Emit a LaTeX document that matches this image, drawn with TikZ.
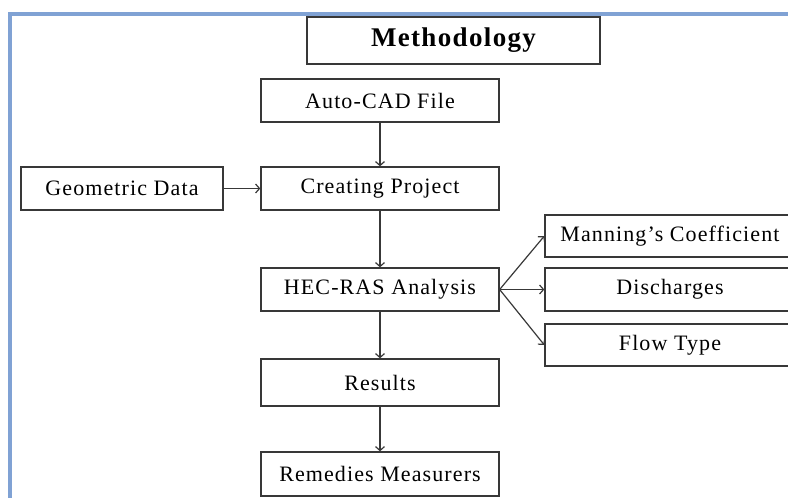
\documentclass[tikz,border=0pt]{standalone}
\usepackage{fontspec}
\setmainfont{Liberation Serif}[LetterSpace=5]
\usepackage{tikz}
\usetikzlibrary{arrows.meta,positioning}
\definecolor{framebl}{RGB}{128,162,212}
\definecolor{boxgray}{rgb}{0.22,0.22,0.22}

\begin{document}
\begin{tikzpicture}[x=1pt,y=-1pt,
            >={Straight Barb[length=4pt,width=9pt]},
            stepbox/.style={draw=boxgray, line width=1.3pt, rectangle, inner sep=0pt,
                minimum width=238pt, minimum height=43pt, font=\fontsize{22}{24}\selectfont},
            sidebox/.style={stepbox, minimum width=250pt, minimum height=42pt},
            flow/.style={->, boxgray, line width=1.2pt}]
            \useasboundingbox (0,0) rectangle (788,498);
            \draw[framebl, line width=4pt] (10,500) -- (10,14) -- (790,14);

            \node[stepbox, minimum width=293pt, minimum height=47pt,
                font=\fontsize{27}{29}\selectfont\bfseries] (title) at (453.5,40.5) {Methodology};
            \node[stepbox] (cad) at (380,100.5) {Auto-CAD File};
            \node[stepbox] (project) at (380,188.5) {Creating Project};
            \node[stepbox, minimum width=202pt] (geom) at (122,188.5) {Geometric Data};
            \node[stepbox] (hecras) at (380,289.5) {HEC-RAS Analysis};
            \node[sidebox] (manning) at (670,236) {Manning’s Coefficient};
            \node[sidebox, minimum height=43pt] (discharge) at (670,289.5) {Discharges};
            \node[sidebox] (flowtype) at (670,345) {Flow Type};
            \node[stepbox, minimum height=47pt] (results) at (380,382.5) {Results};
            \node[stepbox, minimum height=44pt] (remedies) at (380,474) {Remedies Measurers};

            \draw[flow] (cad) -- (project);
            \draw[flow] (geom) -- (project);
            \draw[flow] (project) -- (hecras);
            \draw[flow] (hecras.east) -- (manning.west);
            \draw[flow] (hecras.east) -- (discharge.west);
            \draw[flow] (hecras.east) -- (flowtype.west);
            \draw[flow] (hecras) -- (results);
            \draw[flow] (results) -- (remedies);

            \end{tikzpicture}
\end{document}
